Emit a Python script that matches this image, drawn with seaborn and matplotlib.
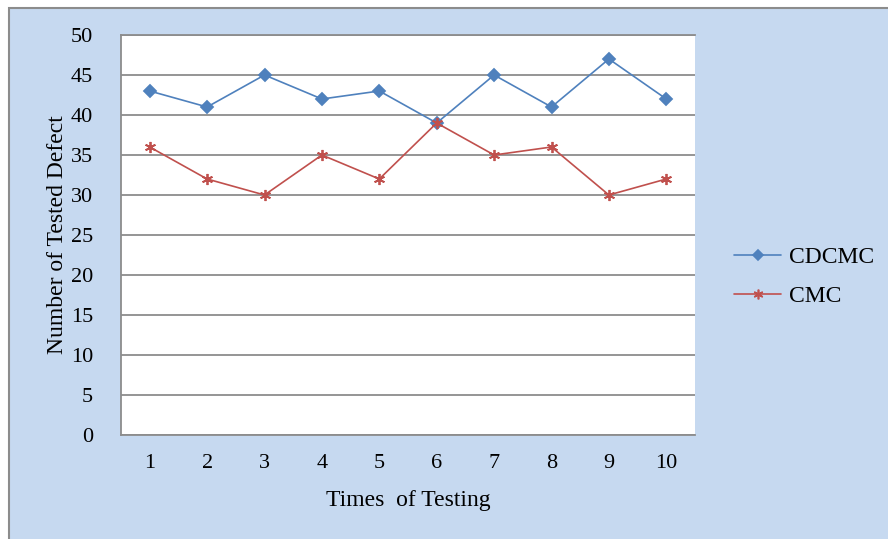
import seaborn as sns
import matplotlib.pyplot as plt
from matplotlib.patches import Rectangle
from matplotlib.lines import Line2D

times = [1, 2, 3, 4, 5, 6, 7, 8, 9, 10]
cdcmc = [43, 41, 45, 42, 43, 39, 45, 41, 47, 42]
cmc = [36, 32, 30, 35, 32, 39, 35, 36, 30, 32]

series = {"CDCMC": cdcmc, "CMC": cmc}
colors = {"CDCMC": "#4f81bd", "CMC": "#c0504d"}
markers = {"CDCMC": "D", "CMC": (6, 2, 0)}
msizes = {"CDCMC": 6.5, "CMC": 8}

sns.set_style("white")
plt.rcParams["font.family"] = ["Liberation Serif", "DejaVu Serif"]
plt.rcParams["text.color"] = "black"
plt.rcParams["xtick.color"] = "black"
plt.rcParams["ytick.color"] = "black"
plt.rcParams["axes.labelcolor"] = "black"

fig = plt.figure(figsize=(8.88, 5.39), dpi=100, facecolor="white")
# light blue chart area with grey frame
fig.patches.append(Rectangle((9 / 888, -0.01), 1.0, (539 - 8) / 539 + 0.01,
                             transform=fig.transFigure, facecolor="#c6d9f0",
                             edgecolor="#8c8c8c", linewidth=1.5, zorder=-10))

ax = fig.add_axes([121 / 888, 104 / 539, 574 / 888, 400 / 539])
ax.set_facecolor("white")

for name, vals in series.items():
    sns.lineplot(x=times, y=vals, color=colors[name], marker=markers[name],
                 markersize=msizes[name], markeredgecolor=colors[name],
                 markeredgewidth=1.3, linewidth=1.2, ax=ax)

ax.set_xlim(0.5, 10.5)
ax.set_ylim(0, 50)
ax.set_xticks(times)
ax.set_yticks(range(0, 51, 5))
ax.yaxis.grid(True, color="#8c8c8c", linewidth=1.3)
ax.set_axisbelow(True)
ax.tick_params(axis="both", length=0, labelsize=16)
ax.tick_params(axis="y", pad=20)
ax.tick_params(axis="x", pad=14)
for s in ["left", "bottom", "top"]:
    ax.spines[s].set_color("#8c8c8c")
    ax.spines[s].set_linewidth(1.3)
ax.spines["right"].set_visible(False)

ax.set_xlabel("Times  of Testing", fontsize=17, labelpad=12)
ax.set_ylabel("Number of Tested Defect", fontsize=17, labelpad=2)

handles = [
    Line2D([], [], color=colors[n], marker=markers[n], markersize=msizes[n] - 1,
           markeredgecolor=colors[n], markeredgewidth=1.2, linewidth=1.2)
    for n in series
]
fig.legend(handles, list(series), loc="center left",
           bbox_to_anchor=(713 / 888, 1 - 277 / 539), frameon=False,
           fontsize=17, handlelength=2.0, handletextpad=0.3, labelspacing=0.75)

fig.savefig("out.png", dpi=100, facecolor=fig.get_facecolor())
